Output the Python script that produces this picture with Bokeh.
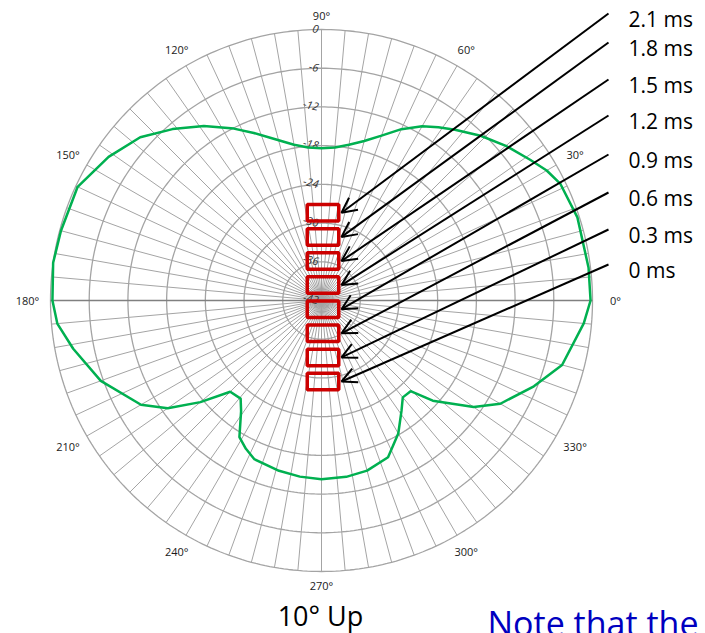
import numpy as np
from bokeh.plotting import figure
from bokeh.models import Arrow, OpenHead, ColumnDataSource, Range1d
from bokeh.embed import file_html
from bokeh.resources import INLINE
from bokeh.core.properties import value

# Horizontal polar response measured 10° up: azimuth (deg) and level (dB)
azimuth_deg = [0, 7, 18, 26, 30, 34, 40, 46, 52, 56, 60, 65, 70, 75, 80, 85, 90,
               95, 100, 107, 112, 117, 124, 131, 138, 146, 155, 165, 172, 180,
               185, 191, 200, 210, 215, 220, 225, 230.5, 234, 239, 243, 247, 256,
               263, 270, 278, 285, 293, 300, 302, 306, 310, 314.5, 318, 325, 330,
               338, 345, 355, 360]
level_db = [-0.3, -0.3, -0.3, -0.8, -1.7, -3.0, -4.7, -6.5, -8.4, -9.6, -10.8,
            -12.7, -14.8, -16.4, -17.5, -18.2, -18.4, -18.2, -17.5, -15.7, -14.0,
            -12.1, -9.4, -6.8, -4.2, -2.2, -0.3, -0.2, 0.0, -0.3, -0.9, -2.8, -5.6,
            -9.7, -12.9, -17.5, -22.0, -22.3, -20.8, -17.3, -16.2, -15.3, -14.8,
            -14.5, -14.3, -14.4, -14.7, -15.6, -18.2, -19.2, -20.9, -22.4, -22.3,
            -18.8, -13.2, -10.0, -6.5, -3.4, -1.2, -0.3]

ring_db = [0, -6, -12, -18, -24, -30, -36, -42]
ring_labels = ["0", "-6", "-12", "-18", "-24", "-30", "-36", "-42"]
angle_ticks = [0, 30, 60, 90, 120, 150, 180, 210, 240, 270, 300, 330]
angle_labels = [f"{a}°" for a in angle_ticks]
delay_labels = ["0 ms", "0.3 ms", "0.6 ms", "0.9 ms", "1.2 ms", "1.5 ms", "1.8 ms", "2.1 ms"]

# --- layout (pixel-like units: 1 data unit = 1 screen pixel, pole at origin) ---
W, H = 705, 633
CX, CY = 321, 300          # pole position on the page
DB_MIN, DB_MAX = -42.0, 0.0
R_OUT = 271.0


def rad(db):
    return (np.asarray(db, dtype=float) - DB_MIN) / (DB_MAX - DB_MIN) * R_OUT


def page(px, py):
    """page pixel -> data coords"""
    return np.asarray(px, dtype=float) - CX, CY - np.asarray(py, dtype=float)


p = figure(width=W, height=H, output_backend="svg", toolbar_location=None,
           x_range=Range1d(-CX, W - CX), y_range=Range1d(-(H - CY), CY),
           x_axis_type=None, y_axis_type=None, min_border=0,
           background_fill_color="white", border_fill_color="white")
p.grid.visible = False
p.outline_line_color = None

grid_col = "#a4a4a4"

# concentric rings
t = np.linspace(0, 2 * np.pi, 361)
ring_xs, ring_ys = [], []
for db in ring_db[:-1]:
    r = rad(db)
    ring_xs.append(list(r * np.cos(t)))
    ring_ys.append(list(r * np.sin(t)))
p.multi_line(ring_xs, ring_ys, line_color=grid_col, line_width=1.3)

# spokes every 5 degrees
spk = np.deg2rad(np.arange(0, 360, 5))
p.segment(x0=np.zeros(len(spk)), y0=np.zeros(len(spk)),
          x1=R_OUT * np.cos(spk), y1=R_OUT * np.sin(spk),
          line_color=grid_col, line_width=1.0)
p.segment(x0=[-R_OUT], y0=[0], x1=[R_OUT], y1=[0], line_color="#808080", line_width=1.3)

# ring level labels along the 90° spoke
p.text(x=[-3] * len(ring_db), y=list(rad(ring_db)), text=ring_labels,
       text_align="right", text_baseline="middle", angle=-0.22,
       text_font=value("Open Sans"), text_font_style="italic",
       text_font_size="11px", text_color="#333333")

# angle labels around the rim
ang = np.deg2rad(angle_ticks)
lab_r = 285 + 9 * np.abs(np.cos(ang))
p.text(x=lab_r * np.cos(ang), y=lab_r * np.sin(ang), text=angle_labels,
       text_align="center", text_baseline="middle",
       text_font=value("Open Sans"), text_font_size="11px", text_color="#1a1a1a")

# response curve
a = np.deg2rad(azimuth_deg)
rr = rad(level_db)
p.line(rr * np.cos(a), rr * np.sin(a), line_color="#00b050", line_width=2.5)

# delay markers: boxes stacked up the 90° axis, 0 ms at the bottom
n = len(delay_labels)
box_py = 381 - np.arange(n) * 24.1
bx, by = page(np.full(n, 322.5), box_py)
p.rect(x=bx, y=by, width=31.5, height=16.5, fill_color=None,
       line_color="#cc0000", line_width=3.5)

# labels and arrows on the right
label_py = np.array([269, 234, 197, 159, 120, 84, 47, 18], dtype=float)
lx, ly = page(np.full(n, 628), label_py)
p.text(x=lx, y=ly, text=delay_labels, text_align="left", text_baseline="middle",
       text_font=value("Open Sans"), text_font_size="21px", text_color="black")

sx, sy = page(np.full(n, 608), label_py - 5)
ex, ey = page(np.full(n, 341), box_py)
arrows = ColumnDataSource(dict(x0=sx, y0=sy, x1=ex, y1=ey))
p.add_layout(Arrow(source=arrows, x_start="x0", y_start="y0", x_end="x1", y_end="y1",
                   line_color="black", line_width=2,
                   end=OpenHead(size=15, line_color="black", line_width=2)))

# captions
cx_, cy_ = page([320], [615])
p.text(x=cx_, y=cy_, text=["10° Up"], text_align="center", text_baseline="middle",
       text_font=value("Open Sans"), text_font_size="27px", text_color="black")
nx, ny = page([487], [622])
p.text(x=nx, y=ny, text=["Note that the"], text_align="left", text_baseline="alphabetic",
       text_font=value("Open Sans"), text_font_size="34px", text_color="#0000c0")

open("out.html", "w").write(file_html(p, INLINE))
